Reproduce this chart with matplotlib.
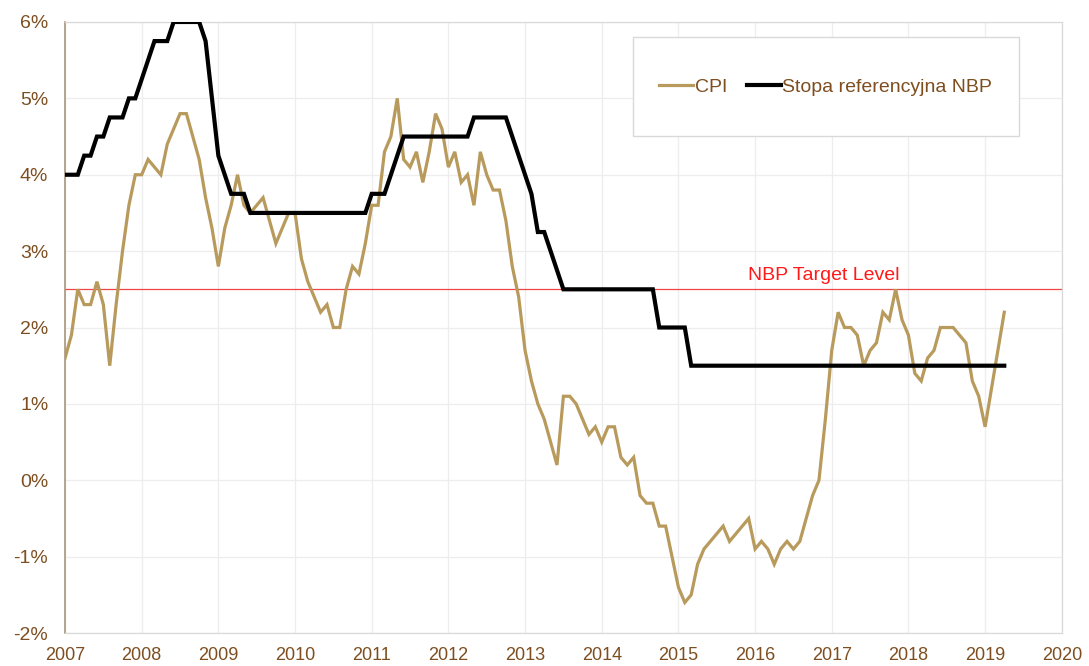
import matplotlib

matplotlib.use("Agg")
import matplotlib.pyplot as plt
from matplotlib.patches import Rectangle
from matplotlib.ticker import FuncFormatter, MultipleLocator

# monthly CPI y/y (%), Jan 2007 - Apr 2019
cpi = [
    1.6, 1.9, 2.5, 2.3, 2.3, 2.6, 2.3, 1.5, 2.3, 3.0, 3.6, 4.0,  # 2007
    4.0, 4.2, 4.1, 4.0, 4.4, 4.6, 4.8, 4.8, 4.5, 4.2, 3.7, 3.3,  # 2008
    2.8, 3.3, 3.6, 4.0, 3.6, 3.5, 3.6, 3.7, 3.4, 3.1, 3.3, 3.5,  # 2009
    3.5, 2.9, 2.6, 2.4, 2.2, 2.3, 2.0, 2.0, 2.5, 2.8, 2.7, 3.1,  # 2010
    3.6, 3.6, 4.3, 4.5, 5.0, 4.2, 4.1, 4.3, 3.9, 4.3, 4.8, 4.6,  # 2011
    4.1, 4.3, 3.9, 4.0, 3.6, 4.3, 4.0, 3.8, 3.8, 3.4, 2.8, 2.4,  # 2012
    1.7, 1.3, 1.0, 0.8, 0.5, 0.2, 1.1, 1.1, 1.0, 0.8, 0.6, 0.7,  # 2013
    0.5, 0.7, 0.7, 0.3, 0.2, 0.3, -0.2, -0.3, -0.3, -0.6, -0.6, -1.0,  # 2014
    -1.4, -1.6, -1.5, -1.1, -0.9, -0.8, -0.7, -0.6, -0.8, -0.7, -0.6, -0.5,  # 2015
    -0.9, -0.8, -0.9, -1.1, -0.9, -0.8, -0.9, -0.8, -0.5, -0.2, 0.0, 0.8,  # 2016
    1.7, 2.2, 2.0, 2.0, 1.9, 1.5, 1.7, 1.8, 2.2, 2.1, 2.5, 2.1,  # 2017
    1.9, 1.4, 1.3, 1.6, 1.7, 2.0, 2.0, 2.0, 1.9, 1.8, 1.3, 1.1,  # 2018
    0.7, 1.2, 1.7, 2.2,  # 2019
]

# NBP reference rate (%), same months
nbp_rate = [
    4.0, 4.0, 4.0, 4.25, 4.25, 4.5, 4.5, 4.75, 4.75, 4.75, 5.0, 5.0,  # 2007
    5.25, 5.5, 5.75, 5.75, 5.75, 6.0, 6.0, 6.0, 6.0, 6.0, 5.75, 5.0,  # 2008
    4.25, 4.0, 3.75, 3.75, 3.75, 3.5, 3.5, 3.5, 3.5, 3.5, 3.5, 3.5,  # 2009
    3.5, 3.5, 3.5, 3.5, 3.5, 3.5, 3.5, 3.5, 3.5, 3.5, 3.5, 3.5,  # 2010
    3.75, 3.75, 3.75, 4.0, 4.25, 4.5, 4.5, 4.5, 4.5, 4.5, 4.5, 4.5,  # 2011
    4.5, 4.5, 4.5, 4.5, 4.75, 4.75, 4.75, 4.75, 4.75, 4.75, 4.5, 4.25,  # 2012
    4.0, 3.75, 3.25, 3.25, 3.0, 2.75, 2.5, 2.5, 2.5, 2.5, 2.5, 2.5,  # 2013
    2.5, 2.5, 2.5, 2.5, 2.5, 2.5, 2.5, 2.5, 2.5, 2.0, 2.0, 2.0,  # 2014
    2.0, 2.0, 1.5, 1.5, 1.5, 1.5, 1.5, 1.5, 1.5, 1.5, 1.5, 1.5,  # 2015
    1.5, 1.5, 1.5, 1.5, 1.5, 1.5, 1.5, 1.5, 1.5, 1.5, 1.5, 1.5,  # 2016
    1.5, 1.5, 1.5, 1.5, 1.5, 1.5, 1.5, 1.5, 1.5, 1.5, 1.5, 1.5,  # 2017
    1.5, 1.5, 1.5, 1.5, 1.5, 1.5, 1.5, 1.5, 1.5, 1.5, 1.5, 1.5,  # 2018
    1.5, 1.5, 1.5, 1.5,  # 2019
]

start_year = 2007
years = list(range(2007, 2021))
target_level = 2.5
target_label = "NBP Target Level"
series_labels = ["CPI", "Stopa referencyjna NBP"]

CPI_COLOR = "#B89A5C"
TEXT_COLOR = "#7E4E20"
GRID_COLOR = "#EDEDED"


def main() -> None:
    plt.rcParams["font.family"] = ["Liberation Sans", "DejaVu Sans"]
    months = [start_year + i / 12 for i in range(len(cpi))]

    fig = plt.figure(figsize=(10.89, 6.66), dpi=100)
    ax = fig.add_axes([0.0597, 0.0495, 0.9153, 0.9175])

    ax.axhline(target_level, color="#F04545", linewidth=0.9, zorder=2)
    ax.text(2016.9, target_level + 0.07, target_label, color="#FF1A1A",
            fontsize=14, ha="center", va="bottom")

    cpi_line, = ax.plot(months, cpi, color=CPI_COLOR, linewidth=2.3, zorder=3,
                        solid_joinstyle="miter")
    nbp_line, = ax.plot(months, nbp_rate, color="black", linewidth=3.0, zorder=4,
                        solid_joinstyle="miter")

    ax.set_xlim(years[0], years[-1])
    ax.set_ylim(-2, 6)
    ax.set_xticks(years)
    ax.set_xticklabels([str(y) for y in years])
    ax.yaxis.set_major_locator(MultipleLocator(1))
    ax.yaxis.set_major_formatter(FuncFormatter(lambda v, _: f"{v:.0f}%"))
    ax.tick_params(axis="x", length=0, pad=10, labelsize=13, labelcolor=TEXT_COLOR)
    ax.tick_params(axis="y", length=0, pad=12, labelsize=14, labelcolor=TEXT_COLOR)
    ax.grid(True, color=GRID_COLOR, linewidth=0.9, zorder=0)
    ax.set_axisbelow(True)

    for side in ("top", "right", "bottom"):
        ax.spines[side].set_color("#D9D9D9")
        ax.spines[side].set_linewidth(0.9)
    ax.spines["left"].set_color("#A8967E")
    ax.spines["left"].set_linewidth(1.2)

    # legend box
    ax.add_patch(Rectangle((0.570, 0.8134), 0.387, 0.162, transform=ax.transAxes,
                           facecolor="white", edgecolor="#D9D9D9", linewidth=1.0,
                           zorder=5))
    leg = ax.legend([cpi_line, nbp_line], series_labels, loc="center",
                    bbox_to_anchor=(0.763, 0.894), ncol=2, frameon=False,
                    fontsize=14, handlelength=1.75, handletextpad=0.1,
                    columnspacing=1.0, borderpad=0)
    leg.set_zorder(6)
    for txt in leg.get_texts():
        txt.set_color(TEXT_COLOR)

    fig.savefig("out.png", dpi=100)
    plt.close(fig)


if __name__ == "__main__":
    main()
